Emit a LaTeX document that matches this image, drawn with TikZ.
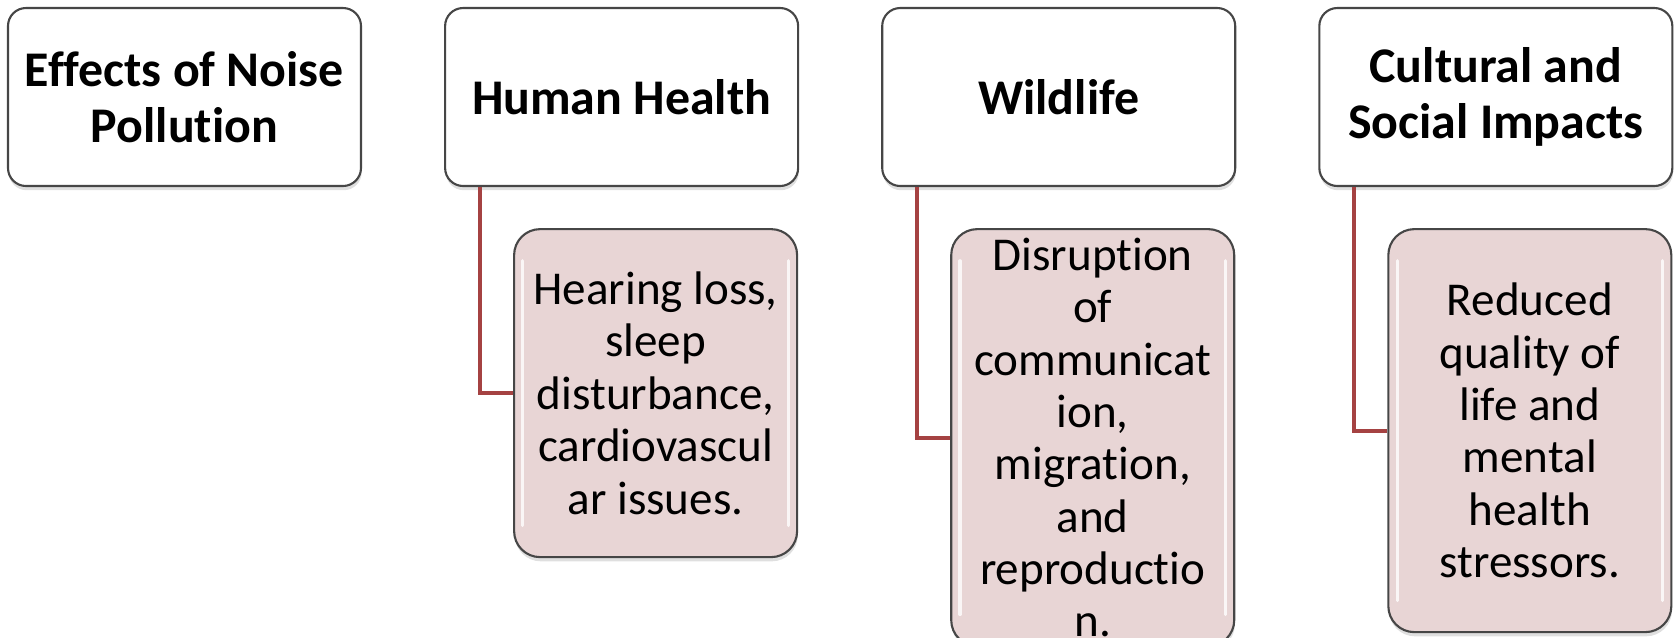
\documentclass[tikz,border=0pt]{standalone}
\usepackage{fontspec}
\setmainfont{Carlito}[RawFeature={-liga;-clig;-calt;-dlig;-rlig;-hlig}]
\usepackage{tikz}
\usetikzlibrary{positioning,calc,shadows}

\definecolor{boxline}{RGB}{70,70,70}
\definecolor{itempink}{RGB}{232,213,213}
\definecolor{linkred}{RGB}{165,66,66}
\newcommand{\boxheadfont}{\fontsize{14.2}{15.9}\selectfont\bfseries}
\newcommand{\boxitemfont}{\fontsize{13.4}{14.9}\selectfont}

\begin{document}
\begin{tikzpicture}[
		head/.style={draw=boxline,line width=0.6pt,rounded corners=0.18cm,fill=white,minimum width=3.53cm,minimum height=1.78cm,inner sep=0pt,align=center,font=\boxheadfont,drop shadow={shadow xshift=0.2pt,shadow yshift=-1.2pt,opacity=0.25}},
		item/.style={draw=boxline,line width=0.6pt,rounded corners=0.26cm,fill=itempink,minimum width=2.83cm,inner sep=0pt,align=center,font=\boxitemfont,drop shadow={shadow xshift=0.2pt,shadow yshift=-1.2pt,opacity=0.25},
			path picture={\draw[white,line width=0.9pt,line cap=round,opacity=0.8] ([xshift=2.5pt,yshift=-9pt]path picture bounding box.north west)--([xshift=2.5pt,yshift=9pt]path picture bounding box.south west);
				\draw[white,line width=0.9pt,line cap=round,opacity=0.8] ([xshift=-2.5pt,yshift=-9pt]path picture bounding box.north east)--([xshift=-2.5pt,yshift=9pt]path picture bounding box.south east);}},
		link/.style={draw=linkred,line width=1.1pt}
	]
		\useasboundingbox (0,0) rectangle (16.8,-6.37);
		\node[head] (effects) at (1.845,-0.97) {Effects of Noise\\Pollution};
		\node[head,shift={(0.82,0)},anchor=west] (health) at (effects.east) {Human Health};
		\node[head,shift={(0.82,0)},anchor=west] (wild) at (health.east) {Wildlife};
		\node[head,shift={(0.82,0)},anchor=west] (social) at (wild.east) {Cultural and\\Social Impacts};
		
		\node[item,minimum height=3.28cm,shift={(0.69,-0.41)},anchor=north west] (healthfx) at (health.south west) {Hearing loss,\\sleep\\disturbance,\\cardiovascul\\ar issues.};
		\node[item,minimum height=4.17cm,shift={(0.69,-0.41)},anchor=north west] (wildfx) at (wild.south west) {Disruption\\of\\communicat\\ion,\\migration,\\and\\reproductio\\n.};
		\node[item,minimum height=4.03cm,shift={(0.69,-0.41)},anchor=north west] (socialfx) at (social.south west) {Reduced\\quality of\\life and\\mental\\health\\stressors.};
		
		\draw[link] ([xshift=0.36cm]health.south west) |- (healthfx.west);
		\draw[link] ([xshift=0.36cm]wild.south west) |- (wildfx.west);
		\draw[link] ([xshift=0.36cm]social.south west) |- (socialfx.west);
	\end{tikzpicture}
\end{document}
